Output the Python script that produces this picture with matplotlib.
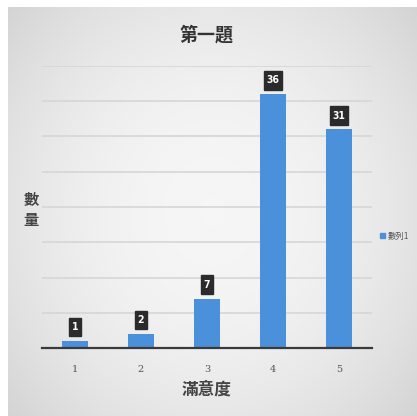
import numpy as np
import matplotlib
matplotlib.use("Agg")
import matplotlib.pyplot as plt
from matplotlib.patches import Patch
from matplotlib.path import Path

plt.rcParams['font.family'] = ['Noto Sans CJK TC', 'DejaVu Sans']

categories = ["1", "2", "3", "4", "5"]
values = [1, 2, 7, 36, 31]
series_name = "數列1"
title = "第一題"
xlabel = "滿意度"
ylabel = "數\n量"

W, H = 417, 416
fig = plt.figure(figsize=(W / 100, H / 100), dpi=100)
fig.patch.set_facecolor("white")

# background gradient panel
bg = fig.add_axes([8 / W, 0, 1 - 8 / W, 1 - 7 / H])
bg.set_axis_off()
xx = np.linspace(-1, 1, 300)
yy = np.linspace(-1, 1, 300)
X, Y = np.meshgrid(xx, yy)
r = np.sqrt((X * 0.9) ** 2 + (Y * 0.8) ** 2)
g = 0.965 - 0.13 * np.clip(r, 0, 1.4) ** 2 / 1.4
img = np.dstack([g, g, g])
bg.imshow(img, extent=[0, 1, 0, 1], aspect="auto", origin="lower")
bg.set_xlim(0, 1)
bg.set_ylim(0, 1)


def tallbox(x0, y0, width, height, mutation_size):
    px = 0.22 * mutation_size
    py = 0.42 * mutation_size
    x0, y0 = x0 - px, y0 - py
    x1, y1 = x0 + width + 2 * px, y0 + height + 2 * py
    return Path([(x0, y0), (x1, y0), (x1, y1), (x0, y1), (x0, y0)], closed=True)


ax = fig.add_axes([42 / W, 1 - 348 / H, 330 / W, 282 / H])
ax.patch.set_alpha(0)
x = np.arange(len(categories))
bars = ax.bar(x, values, width=0.4, color="#4A90DB", zorder=3)
ax.set_xlim(-0.5, len(categories) - 0.5)
ax.set_ylim(0, 40)
ax.set_yticks(np.arange(5, 41, 5))
ax.yaxis.grid(True, color="#d6d6d6", linewidth=1.2, zorder=0)
ax.tick_params(axis="y", left=False, labelleft=False)
ax.tick_params(axis="x", bottom=False, labelsize=7, labelcolor="#555555", pad=9)
ax.set_xticks(x)
ax.set_xticklabels(categories, family="DejaVu Serif")
for s in ["top", "right", "left"]:
    ax.spines[s].set_visible(False)
ax.spines["bottom"].set_color("#3a3a3a")
ax.spines["bottom"].set_linewidth(1.6)
ax.spines["bottom"].set_zorder(4)

for xi, v in zip(x, values):
    ax.annotate(str(v), (xi, v), xytext=(0, 10), textcoords="offset points",
                ha="center", va="center", color="white", fontsize=7.5, fontweight="bold",
                family="DejaVu Sans", fontstretch="condensed",
                bbox=dict(boxstyle=tallbox, fc="#2b2b2b", ec="#2b2b2b"), zorder=5)

fig.text(206 / W, 1 - 35 / H, title, ha="center", va="center", fontsize=13,
         fontweight="bold", color="#333333")
fig.text(206 / W, 1 - 390 / H, xlabel, ha="center", va="center", fontsize=12,
         fontweight="bold", color="#444444")
fig.text(31 / W, 1 - 210 / H, ylabel, ha="center", va="center", fontsize=11,
         fontweight="bold", color="#444444", linespacing=1.3)

leg = fig.legend(handles=[Patch(color="#4A90DB", label=series_name)],
                 loc="center left", bbox_to_anchor=(376 / W, 1 - 236 / H),
                 frameon=False, fontsize=6, handlelength=0.6, handleheight=0.6,
                 handletextpad=0.3, borderpad=0)
for t in leg.get_texts():
    t.set_color("#555555")

fig.savefig("out.png", dpi=100)
